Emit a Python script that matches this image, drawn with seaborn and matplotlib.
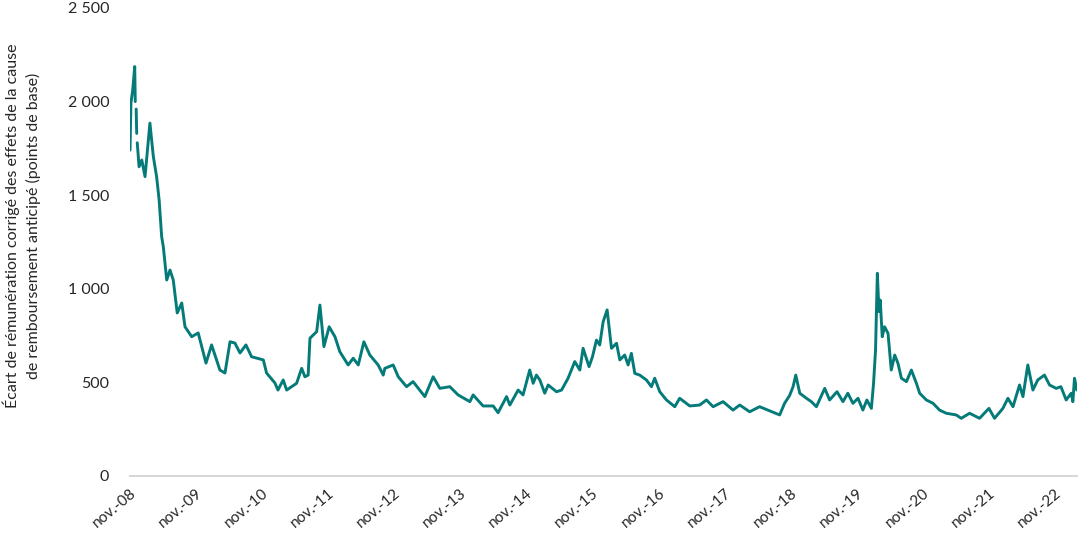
import pandas as pd
import numpy as np
import seaborn as sns
import matplotlib.pyplot as plt
from matplotlib.ticker import FuncFormatter

# values (basis points)
dates = [
    "2008-11-01", "2008-11-06", "2008-11-16", "2008-11-27", "2008-11-30", "2008-12-02",
    "2008-12-05", "2008-12-08", "2008-12-09", "2008-12-11", "2008-12-21",
    "2009-01-05", "2009-01-23", "2009-02-19", "2009-03-10", "2009-03-28", "2009-04-11",
    "2009-04-25", "2009-05-04", "2009-05-23", "2009-06-10", "2009-06-28", "2009-07-20",
    "2009-08-14", "2009-09-01", "2009-10-08", "2009-11-13", "2009-12-26",
    "2010-01-26", "2010-03-13", "2010-04-10", "2010-05-08", "2010-06-04", "2010-07-02",
    "2010-08-04", "2010-09-04", "2010-11-08", "2010-11-26",
    "2011-01-11", "2011-01-28", "2011-02-26", "2011-03-17", "2011-05-11", "2011-06-08",
    "2011-06-26", "2011-07-14", "2011-07-24", "2011-08-30", "2011-09-17", "2011-10-09",
    "2011-11-07", "2011-12-09",
    "2012-01-05", "2012-02-20", "2012-03-19", "2012-04-16", "2012-05-17", "2012-06-19",
    "2012-08-04", "2012-09-01", "2012-09-10", "2012-10-26", "2012-11-23",
    "2013-01-08", "2013-02-13", "2013-04-19", "2013-06-04", "2013-07-11", "2013-09-04",
    "2013-10-20", "2013-12-24",
    "2014-01-11", "2014-03-07", "2014-05-02", "2014-05-29", "2014-07-15", "2014-08-02",
    "2014-09-17", "2014-10-14", "2014-11-20", "2014-12-09", "2014-12-27",
    "2015-01-15", "2015-02-11", "2015-03-02", "2015-04-17", "2015-05-15", "2015-06-20",
    "2015-07-27", "2015-08-24", "2015-09-11", "2015-10-14", "2015-11-02", "2015-11-24",
    "2015-12-12", "2015-12-31",
    "2016-01-22", "2016-02-15", "2016-03-14", "2016-04-01", "2016-04-28", "2016-05-17",
    "2016-06-04", "2016-06-23", "2016-07-20", "2016-08-26", "2016-09-23", "2016-10-11",
    "2016-11-08", "2016-12-15",
    "2017-01-30", "2017-02-26", "2017-04-23", "2017-06-17", "2017-07-24", "2017-08-30",
    "2017-10-24", "2017-12-18",
    "2018-01-24", "2018-03-20", "2018-05-14", "2018-06-29", "2018-09-02", "2018-09-29",
    "2018-10-27", "2018-11-15", "2018-11-30", "2018-12-22",
    "2019-01-28", "2019-02-24", "2019-03-24", "2019-05-09", "2019-06-05", "2019-07-16",
    "2019-08-18", "2019-09-14", "2019-10-12", "2019-11-09", "2019-12-06", "2019-12-28",
    "2020-01-22", "2020-02-03", "2020-02-14", "2020-02-24", "2020-03-04", "2020-03-11",
    "2020-03-22", "2020-04-04", "2020-04-23", "2020-05-11", "2020-05-30", "2020-06-17",
    "2020-07-06", "2020-08-03", "2020-08-30", "2020-09-27", "2020-10-15", "2020-11-21",
    "2020-12-28",
    "2021-02-02", "2021-03-11", "2021-05-05", "2021-06-02", "2021-07-18", "2021-09-11",
    "2021-11-02", "2021-12-03",
    "2022-01-18", "2022-02-15", "2022-03-15", "2022-04-20", "2022-05-09", "2022-06-05",
    "2022-07-03", "2022-07-30", "2022-09-05", "2022-10-03", "2022-11-09", "2022-12-05",
    "2023-01-03", "2023-01-31", "2023-02-09", "2023-02-18", "2023-03-03",
]
spread = [
    1741, 1992, 2062, 2187, 2000, np.nan,
    1960, 1830, np.nan, 1780, 1652,
    1688, 1599, 1885, 1706, 1599, 1474,
    1278, 1225, 1047, 1100, 1047, 871,
    924, 797, 744, 764, 603,
    700, 566, 550, 717, 710, 657,
    700, 637, 620, 550,
    497, 459, 513, 459, 495, 575,
    530, 539, 736, 771, 913, 691,
    797, 744,
    664, 593, 629, 593, 717, 646,
    593, 539, 575, 593, 530,
    477, 504, 424, 530, 468, 477,
    433, 397,
    433, 374, 374, 338, 424, 379,
    459, 433, 566, 495, 539,
    513, 442, 486, 450, 459, 522,
    611, 566, 682, 584, 637, 726,
    700, 824,
    887, 682, 709, 620, 646, 593,
    655, 548, 539, 513, 477, 522,
    450, 406,
    370, 415, 374, 379, 406, 370,
    397, 352,
    379, 343, 370, 352, 326, 388,
    430, 477, 539, 442,
    415, 397, 370, 468, 406, 450,
    397, 442, 388, 415, 352, 406,
    361, 495, 673, 1083, 878, 940,
    744, 797, 762, 566, 646, 602,
    522, 504, 566, 495, 442, 406,
    388,
    352, 335, 326, 308, 335, 308,
    361, 308,
    361, 415, 370, 486, 424, 593,
    459, 513, 539, 486, 468, 477,
    406, 442, 397, 522, 459,
]
tick_years = list(range(2008, 2023))

df = pd.DataFrame({"date": pd.to_datetime(dates), "spread": spread})
# missing values break the line into pieces
df["piece"] = df["spread"].isna().cumsum()
df = df.dropna()

sns.set_style("white")
plt.rcParams["font.family"] = ["Lato", "DejaVu Sans"]

fig = plt.figure(figsize=(10.79, 5.33), dpi=100)
ax = fig.add_axes([0.1205, 0.107, 0.878, 0.878])

sns.lineplot(data=df, x="date", y="spread", units="piece", estimator=None,
             ax=ax, color="#047b78", linewidth=2.1)

ax.set_ylim(0, 2500)
ax.set_yticks([0, 500, 1000, 1500, 2000, 2500])
ax.yaxis.set_major_formatter(FuncFormatter(lambda v, p: f"{int(v):,}".replace(",", " ")))
ax.set_xlim(pd.Timestamp("2008-11-01"), pd.Timestamp("2023-03-06"))

ticks = [pd.Timestamp(f"{y}-11-01") for y in tick_years]
ax.set_xticks(ticks)
ax.set_xticklabels([f"nov.-{y % 100:02d}" for y in tick_years], rotation=40,
                   ha="right", rotation_mode="anchor", fontsize=11)
ax.tick_params(axis="x", length=5, width=1, color="#d0d0d0", pad=2)
ax.tick_params(axis="y", length=0, pad=15, labelsize=11.5)

ax.set_xlabel("")
ax.set_ylabel("Écart de rémunération corrigé des effets de la cause\n"
              "de remboursement anticipé (points de base)", fontsize=11.5,
              linespacing=1.45)
ax.yaxis.set_label_coords(-0.094, 0.535)

for side in ["top", "right", "left"]:
    ax.spines[side].set_visible(False)
ax.spines["bottom"].set_color("#d0d0d0")
ax.spines["bottom"].set_linewidth(1.2)

plt.savefig("out.png", dpi=100)
